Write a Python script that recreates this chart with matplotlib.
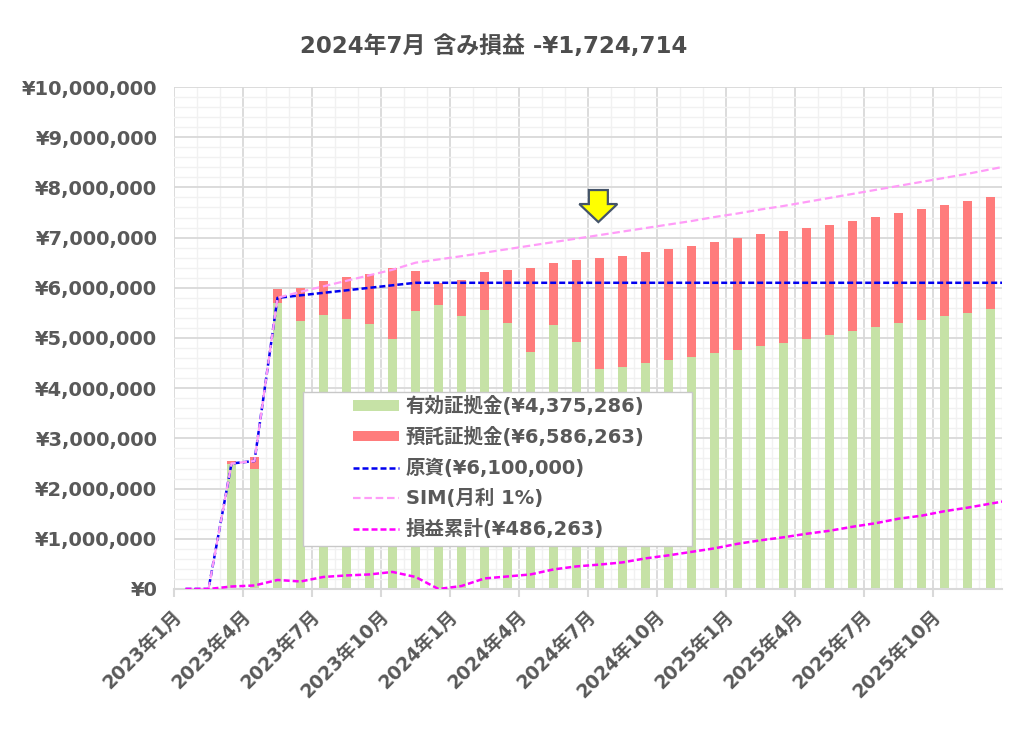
import numpy as np
import matplotlib
matplotlib.use("Agg")
import matplotlib.pyplot as plt
from matplotlib.patches import Patch, Rectangle, Polygon
from matplotlib.lines import Line2D
from matplotlib import transforms
from matplotlib.ticker import FuncFormatter, MultipleLocator

plt.rcParams['font.family'] = ['DejaVu Sans', 'Noto Sans CJK JP']

# ---------------- data (yen) ----------------
title_text = "2024年7月 含み損益 -¥1,724,714"

# month index 0 = 2023年1月 ... 35 = 2025年12月 (36 = 2026年1月, only for lines)
bar_months = list(range(2, 36))

deposit = [2550000, 2620000, 5980000, 6000000, 6140000, 6220000, 6280000, 6390000,
           6340000, 6100000, 6160000, 6310000, 6350000, 6390000, 6490000, 6550000,
           6586263, 6630000, 6710000, 6770000, 6840000, 6910000, 7000000, 7070000,
           7130000, 7200000, 7260000, 7340000, 7410000, 7500000, 7560000, 7650000,
           7720000, 7800000]                      # 預託証拠金
effective = [2500000, 2400000, 5690000, 5340000, 5450000, 5380000, 5280000, 4980000,
             5540000, 5660000, 5440000, 5560000, 5290000, 4730000, 5250000, 4930000,
             4375286, 4430000, 4500000, 4560000, 4630000, 4700000, 4760000, 4850000,
             4910000, 4980000, 5050000, 5140000, 5210000, 5290000, 5350000, 5440000,
             5500000, 5580000]                    # 有効証拠金

line_months = list(range(0, 37))
principal = [0, 0, 2500000, 2550000, 5800000, 5850000, 5900000, 5950000, 6000000,
             6050000, 6100000, 6100000, 6100000, 6100000, 6100000, 6100000, 6100000,
             6100000, 6100000, 6100000, 6100000, 6100000, 6100000, 6100000, 6100000,
             6100000, 6100000, 6100000, 6100000, 6100000, 6100000, 6100000, 6100000,
             6100000, 6100000, 6100000, 6100000]  # 原資
sim = [0, 0, 2500000, 2550000, 5800000, 5920000, 6030000, 6140000, 6250000,
       6360000, 6500000, 6565000, 6630000, 6700000, 6770000, 6840000, 6910000,
       6980000, 7050000, 7120000, 7190000, 7260000, 7330000, 7410000, 7480000,
       7560000, 7630000, 7710000, 7790000, 7870000, 7950000, 8030000, 8110000,
       8190000, 8270000, 8360000, 8450000]        # SIM(月利 1%)
cum_pl = [0, 0, 50000, 70000, 180000, 150000, 240000, 270000, 290000, 340000,
          240000, 0, 60000, 210000, 250000, 290000, 390000, 450000, 486263, 530000,
          610000, 670000, 740000, 810000, 900000, 970000, 1030000, 1100000, 1160000,
          1240000, 1310000, 1400000, 1460000, 1550000, 1620000, 1700000, 1780000]  # 損益累計

tick_months = [0, 3, 6, 9, 12, 15, 18, 21, 24, 27, 30, 33]
tick_labels = ["2023年1月", "2023年4月", "2023年7月", "2023年10月",
               "2024年1月", "2024年4月", "2024年7月", "2024年10月",
               "2025年1月", "2025年4月", "2025年7月", "2025年10月"]

legend_labels = ["有効証拠金(¥4,375,286)", "預託証拠金(¥6,586,263)", "原資(¥6,100,000)",
                 "SIM(月利 1%)", "損益累計(¥486,263)"]

arrow_month = 18

# ---------------- styles ----------------
c_green = "#c6e2a6"
c_red = "#ff7c7c"
c_blue = "#0000f0"
c_sim = "#ff9cf8"
c_pl = "#ff00ff"
c_text = "#595959"
c_major = "#d9d9d9"
c_minor = "#f1f1f1"

fig = plt.figure(figsize=(10.24, 7.4), dpi=100)
ax = fig.add_axes([174/1024, 1-589/740, 828/1024, 502/740])

bx = np.array(bar_months) + 0.5
lx = np.array(line_months) + 0.5
bw = 0.40
ax.bar(bx, deposit, width=bw, color=c_red, zorder=2)
ax.bar(bx, effective, width=bw, color=c_green, zorder=2.1)

ax.plot(lx, principal, color=c_blue, lw=1.8, ls=(0, (2.4, 1.2)), zorder=3)
ax.plot(lx, sim, color=c_sim, lw=1.6, ls=(0, (3.4, 1.7)), zorder=3.1)
ax.plot(lx, cum_pl, color=c_pl, lw=1.8, ls=(0, (2.4, 1.2)), zorder=3.2)

ax.set_xlim(0, 36)
ax.set_ylim(0, 10000000)

# grid
ax.yaxis.set_major_locator(MultipleLocator(1000000))
ax.yaxis.set_minor_locator(MultipleLocator(200000))
ax.xaxis.set_major_locator(MultipleLocator(3))
ax.xaxis.set_minor_locator(MultipleLocator(1))
ax.grid(which='major', color=c_major, lw=1.3, zorder=0)
ax.grid(which='minor', color=c_minor, lw=1.0, zorder=0)
ax.set_axisbelow(True)

for s in ['top', 'right', 'left']:
    ax.spines[s].set_visible(False)
ax.spines['bottom'].set_color(c_major)
ax.spines['bottom'].set_linewidth(1.5)

ax.yaxis.set_major_formatter(FuncFormatter(lambda v, p: "¥{:,.0f}".format(v)))
ax.tick_params(axis='y', which='both', length=0, pad=12, labelsize=14, labelcolor=c_text)
for t in ax.get_yticklabels():
    t.set_fontweight('bold')

ax.set_xticks(tick_months)
ax.set_xticklabels(tick_labels)
ax.tick_params(axis='x', which='major', length=6, color=c_major, width=1.5, pad=4,
               labelsize=13.5, labelcolor=c_text)
ax.tick_params(axis='x', which='minor', length=0)
offset = transforms.ScaledTranslation(5/100, -10/100, fig.dpi_scale_trans)
for t in ax.get_xticklabels():
    t.set_rotation(45)
    t.set_ha('right')
    t.set_va('center')
    t.set_rotation_mode('anchor')
    t.set_fontweight('bold')
    t.set_transform(t.get_transform() + offset)

# title
fig.text(494/1024, 1-46/740, title_text, ha='center', va='center', fontsize=16.5,
         fontweight='bold', color="#4d4d4d")

# legend box
box = Rectangle(((303-174)/828, (589-546)/502), (692-303)/828, (546-392)/502,
                transform=ax.transAxes, facecolor='white', edgecolor='#c8c8c8', lw=1.0,
                zorder=5)
ax.add_patch(box)
handles = [Patch(facecolor=c_green, edgecolor='none'),
           Patch(facecolor=c_red, edgecolor='none'),
           Line2D([], [], color=c_blue, lw=1.8, ls=(0, (2.4, 1.2))),
           Line2D([], [], color=c_sim, lw=1.6, ls=(0, (3.4, 1.7))),
           Line2D([], [], color=c_pl, lw=1.8, ls=(0, (2.4, 1.2)))]
leg = ax.legend(handles, legend_labels, loc='center',
                bbox_to_anchor=((499-174)/828, (589-467.5)/502), frameon=False,
                fontsize=14, handlelength=2.35, handleheight=0.42, handletextpad=0.35,
                labelspacing=0.56, borderpad=0.2)
leg.set_zorder(6)
for t in leg.get_texts():
    t.set_color(c_text)
    t.set_fontweight('bold')

# arrow marker
tip_y = 7310000
trans = fig.dpi_scale_trans + transforms.ScaledTranslation(arrow_month + 0.45, tip_y, ax.transData)
pts = np.array([[0, 0], [-19, 18], [-9.5, 18], [-9.5, 32], [9.5, 32], [9.5, 18], [19, 18]]) / 100.0
arrow = Polygon(pts, closed=True, transform=trans, facecolor='#ffff00', edgecolor='#44546a',
                lw=1.6, zorder=7)
ax.add_patch(arrow)

fig.savefig("out.png", dpi=100)
